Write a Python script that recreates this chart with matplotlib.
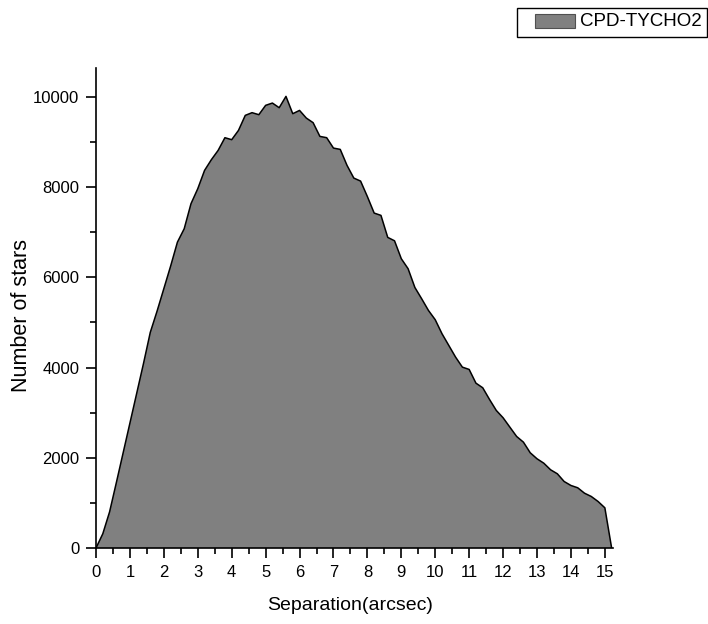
import matplotlib
matplotlib.use("Agg")
import matplotlib.pyplot as plt
from matplotlib.ticker import MultipleLocator
from matplotlib.patches import Rectangle
import numpy as np

plt.rcParams['font.family'] = ['Liberation Sans', 'DejaVu Sans']

separation = [0.0, 0.2, 0.4, 0.6, 0.8, 1.0, 1.2, 1.4, 1.6, 1.8, 2.0, 2.2, 2.4, 2.6, 2.8,
              3.0, 3.2, 3.4, 3.6, 3.8, 4.0, 4.2, 4.4, 4.6, 4.8, 5.0, 5.2, 5.4, 5.6, 5.8,
              6.0, 6.2, 6.4, 6.6, 6.8, 7.0, 7.2, 7.4, 7.6, 7.8, 8.0, 8.2, 8.4, 8.6, 8.8,
              9.0, 9.2, 9.4, 9.6, 9.8, 10.0, 10.2, 10.4, 10.6, 10.8, 11.0, 11.2, 11.4,
              11.6, 11.8, 12.0, 12.2, 12.4, 12.6, 12.8, 13.0, 13.2, 13.4, 13.6, 13.8,
              14.0, 14.2, 14.4, 14.6, 14.8, 15.0, 15.2]
counts = [0, 315, 800, 1450, 2110, 2770, 3430, 4090, 4780, 5250, 5750, 6250, 6780, 7077, 7632,
          7965, 8370, 8607, 8814, 9095, 9051, 9257, 9590, 9650, 9605, 9812, 9863, 9760, 10011, 9627,
          9700, 9530, 9428, 9124, 9095, 8865, 8836, 8481, 8200, 8133, 7790, 7424, 7373, 6885, 6810,
          6412, 6191, 5775, 5525, 5266, 5060, 4749, 4490, 4231, 4009, 3958, 3654, 3552,
          3293, 3049, 2887, 2679, 2472, 2346, 2111, 1978, 1880, 1734, 1645, 1474,
          1386, 1335, 1215, 1142, 1031, 891, 0]
series_label = "CPD-TYCHO2"

W, H = 708, 624
fig = plt.figure(figsize=(W / 100, H / 100), dpi=100)
ax = fig.add_axes([96/W, 76/H, 517/W, 480/H])

x = np.array(separation)
y = np.array(counts)
ax.fill_between(x, 0, y, facecolor='#808080', edgecolor='none', label=series_label)
ax.plot(x, y, color='black', lw=1.1)

ax.set_xlim(0, 15.24)
ax.set_ylim(0, 10640)

for s in ['top', 'right']:
    ax.spines[s].set_visible(False)
for s in ['left', 'bottom']:
    ax.spines[s].set_linewidth(1.2)

ax.xaxis.set_major_locator(MultipleLocator(1))
ax.xaxis.set_minor_locator(MultipleLocator(0.5))
ax.yaxis.set_major_locator(MultipleLocator(2000))
ax.yaxis.set_minor_locator(MultipleLocator(1000))
ax.tick_params(which='major', direction='out', length=7, width=1.2, labelsize=12, pad=5)
ax.tick_params(which='minor', direction='out', length=4, width=1.2)

ax.set_xlabel('Separation(arcsec)', fontsize=14)
ax.set_ylabel('Number of stars', fontsize=15.5)
ax.xaxis.set_label_coords((350 - 96) / 517, -(606 - 548) / 480)
ax.yaxis.set_label_coords(-(96 - 22) / 517, (548 - 316) / 480)
ax.xaxis.label.set_va('center')
ax.yaxis.label.set_va('center')

# Legend box drawn in figure pixel coordinates (top-right, outside the axes)
def fx(px):
    return px / W

def fy(py):
    return 1 - py / H

frame = Rectangle((fx(517), fy(37)), fx(707) - fx(517), fy(8) - fy(37),
                  transform=fig.transFigure, facecolor='white', edgecolor='black', lw=1.0)
swatch = Rectangle((fx(535), fy(27.5)), fx(575) - fx(535), fy(14) - fy(27.5),
                   transform=fig.transFigure, facecolor='#808080', edgecolor='#505050', lw=0.8)
fig.patches.extend([frame, swatch])
fig.text(fx(580), fy(21.5), series_label, fontsize=13.5, ha='left', va='center')

fig.savefig('out.png', dpi=100)
